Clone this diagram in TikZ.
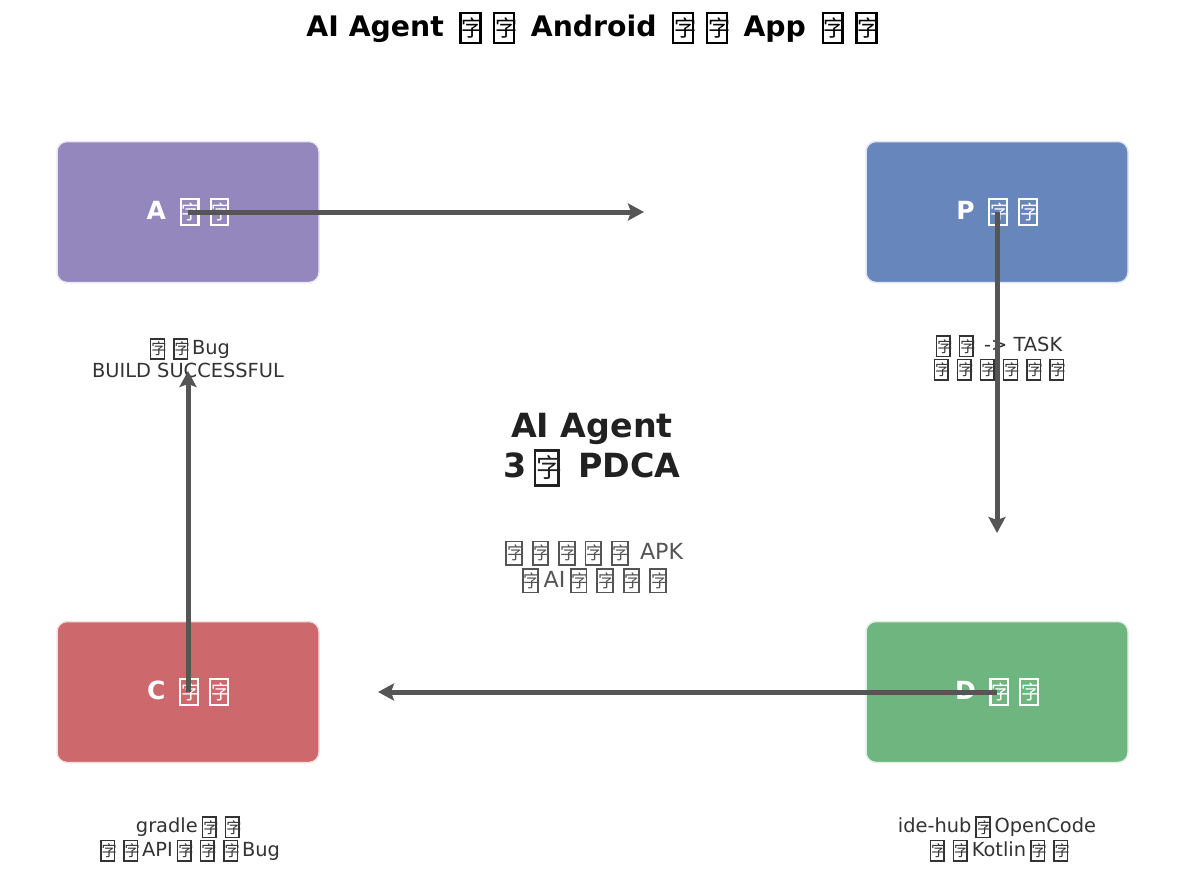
\documentclass[tikz,border=0pt]{standalone}
\usepackage{fontspec}
\usepackage{graphicx}
\setmainfont{DejaVu Sans}
\newfontfamily\cjk{Noto Sans CJK SC}
\usetikzlibrary{arrows.meta}
\definecolor{cA}{HTML}{9487BE}
\definecolor{cP}{HTML}{6787BC}
\definecolor{cC}{HTML}{CD696C}
\definecolor{cD}{HTML}{6EB57F}
\definecolor{arr}{HTML}{555555}
\definecolor{sub}{HTML}{333333}
\definecolor{mid}{HTML}{555555}
\newcommand\tofu{\hspace{0.2em}\raisebox{-0.2em}{\setlength\fboxrule{0.085em}\setlength\fboxsep{0pt}\fbox{\parbox[b][0.97em][c]{0.62em}{\centering\scalebox{0.78}{\cjk\mdseries 字}}}}\hspace{0.2em}}
\tikzset{
  phase/.style={draw=#1!20!white, fill=#1, line width=1.5pt, rounded corners=10pt, minimum width=262pt, minimum height=141pt, inner sep=0pt, text=white, font=\bfseries\fontsize{25}{30}\selectfont},
  sublbl/.style={align=center, text=sub, font=\fontsize{19.4}{23.3}\selectfont, inner sep=0pt},
  flow/.style={draw=arr, line width=5pt, -{Stealth[length=16pt,width=17pt,inset=3pt]}},
}
\begin{document}
\begin{tikzpicture}[x=1pt,y=-1pt]
\useasboundingbox (0,0) rectangle (1185,878);
\fill[white] (0,0) rectangle (1185,878);
\node[inner sep=0pt, font=\bfseries\fontsize{28.3}{33}\selectfont] (title) at (592,28) {AI Agent \tofu\tofu{} Android \tofu\tofu{} App \tofu\tofu};
\node[phase=cA] (A) at (188,212) {A \tofu\tofu};
\node[phase=cP] (P) at (997,212) {P \tofu\tofu};
\node[phase=cC] (C) at (188,692) {C \tofu\tofu};
\node[phase=cD] (D) at (997,692) {D \tofu\tofu};
\node[sublbl] (As) at (188,358) {\tofu\tofu Bug\\BUILD SUCCESSFUL};
\node[sublbl] (Ps) at (997,358) {\tofu\tofu{} -> TASK\\\tofu\tofu\tofu\tofu\tofu\tofu};
\node[sublbl] (Cs) at (188,839) {gradle\tofu\tofu\\\tofu\tofu API\tofu\tofu\tofu Bug};
\node[sublbl] (Ds) at (997,839) {ide-hub\tofu OpenCode\\\tofu\tofu Kotlin\tofu\tofu};
\node[align=center, inner sep=0pt, text={black!87}, font=\bfseries\fontsize{33.3}{40}\selectfont] (mid) at (592,450) {AI Agent\\3\tofu{} PDCA};
\node[align=center, inner sep=0pt, text=mid, font=\fontsize{22.2}{27.5}\selectfont] (note) at (592,567) {\tofu\tofu\tofu\tofu\tofu{} APK\\\tofu AI\tofu\tofu\tofu\tofu};
\coordinate (aEnd) at (644,212);
\coordinate (pEnd) at (997,533);
\coordinate (dEnd) at (378,692);
\coordinate (cEnd) at (188,371);
\draw[flow] (A.center) -- (aEnd);
\draw[flow] (P.center) -- (pEnd);
\draw[flow] (D.center) -- (dEnd);
\draw[flow] (C.center) -- (cEnd);
\end{tikzpicture}
\end{document}
